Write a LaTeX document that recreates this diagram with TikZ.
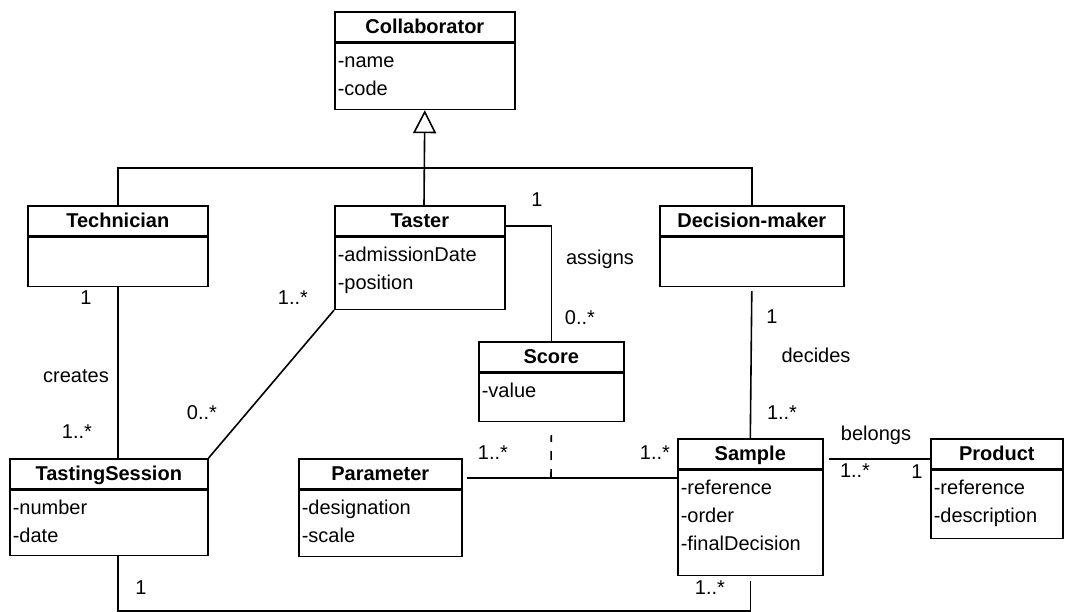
\documentclass[tikz,border=0pt]{standalone}
\usepackage{fontspec}
\setmainfont{Liberation Sans}
\usetikzlibrary{arrows.meta}
\newcommand{\diagfont}{\fontsize{20}{28}\selectfont}

\tikzset{
  classhead/.style={draw, anchor=north west, minimum height=30pt, inner sep=0pt, text height=14.3pt, text depth=0pt, font=\diagfont\bfseries},
  classbody/.style={draw, anchor=north west, inner sep=0pt},
  attrs/.style={anchor=base west, align=left, inner sep=0pt},
  mult/.style={inner sep=0pt},
  inherit/.style={-{Triangle[open, length=23pt, width=23pt]}},
  scoredash/.style={dash pattern=on 9pt off 9pt},
}

\begin{document}
\begin{tikzpicture}[x=1pt, y=-1pt, line width=1.6pt, font=\diagfont]
  \useasboundingbox (0,0) rectangle (1068,612);

  % classes (attrs are placed by the baseline of their last line)
  \node[classhead, minimum width=180pt] (collab) at (334,11) {Collaborator};
  \node[classbody, minimum width=180pt, minimum height=66pt] (collab-body) at (collab.south west) {};
  \node[attrs] (collab-attr) at ([xshift=3pt, yshift=-52.5pt]collab-body.north west) {-name\\-code};

  \node[classhead, minimum width=180pt] (tech) at (27,205) {Technician};
  \node[classbody, minimum width=180pt, minimum height=49pt] (tech-body) at (tech.south west) {};

  \node[classhead, minimum width=170pt] (taster) at (334,205) {Taster};
  \node[classbody, minimum width=170pt, minimum height=72pt] (taster-body) at (taster.south west) {};
  \node[attrs] (taster-attr) at ([xshift=3pt, yshift=-52.5pt]taster-body.north west) {-admissionDate\\-position};

  \node[classhead, minimum width=184pt] (decmaker) at (659,205) {Decision-maker};
  \node[classbody, minimum width=184pt, minimum height=49pt] (decmaker-body) at (decmaker.south west) {};

  \node[classhead, minimum width=145pt] (score) at (478,341) {Score};
  \node[classbody, minimum width=145pt, minimum height=48pt] (score-body) at (score.south west) {};
  \node[attrs] (score-attr) at ([xshift=3pt, yshift=-24.5pt]score-body.north west) {-value};

  \node[classhead, minimum width=198pt] (session) at (9,458) {TastingSession};
  \node[classbody, minimum width=198pt, minimum height=65pt] (session-body) at (session.south west) {};
  \node[attrs] (session-attr) at ([xshift=3pt, yshift=-52.5pt]session-body.north west) {-number\\-date};

  \node[classhead, minimum width=163pt] (param) at (298,458) {Parameter};
  \node[classbody, minimum width=163pt, minimum height=66pt] (param-body) at (param.south west) {};
  \node[attrs] (param-attr) at ([xshift=3pt, yshift=-52.5pt]param-body.north west) {-designation\\-scale};

  \node[classhead, minimum width=145pt] (sample) at (677,438) {Sample};
  \node[classbody, minimum width=145pt, minimum height=105pt] (sample-body) at (sample.south west) {};
  \node[attrs] (sample-attr) at ([xshift=3pt, yshift=-80.5pt]sample-body.north west) {-reference\\-order\\-finalDecision};

  \node[classhead, minimum width=132pt] (product) at (930,438) {Product};
  \node[classbody, minimum width=132pt, minimum height=68pt] (product-body) at (product.south west) {};
  \node[attrs] (product-attr) at ([xshift=3pt, yshift=-52.5pt]product-body.north west) {-reference\\-description};

  % generalisation
  \coordinate (hub) at (424,168);
  \draw (tech.north) |- (hub) -| (decmaker.north);
  \draw[inherit] (hub |- taster.north) -- (collab-body.south);

  % associations
  \draw ([yshift=-21pt]taster.north east) -| (score.north);
  \node[mult] (m-assign-1) at (537,200) {1};
  \node (lbl-assigns) at (600,259) {assigns};
  \node[mult] (m-assign-2) at (580,318) {0..*};

  \draw (tech-body.south) -- (tech-body.south |- session.north);
  \node[mult] (m-create-1) at (86,298) {1};
  \node (lbl-creates) at (76,376) {creates};
  \node[mult] (m-create-2) at (77,432) {1..*};

  \draw (taster-body.south west) -- (session.north east);
  \node[mult] (m-taste-1) at (293,298) {1..*};
  \node[mult] (m-taste-2) at (202,413) {0..*};

  \draw ([yshift=-4pt]decmaker-body.south) -- (sample.north);
  \node[mult] (m-decide-1) at (772,317) {1};
  \node (lbl-decides) at (816,355) {decides};
  \node[mult] (m-decide-2) at (782,413) {1..*};

  \draw ([xshift=4pt, yshift=-20pt]param.north east) -- ([yshift=-40pt]sample.north west);
  \coordinate (assoc) at (551,478);
  \draw[scoredash] (assoc) -- ([yshift=-13pt]score-body.south);
  \node[mult] (m-param-1) at (493,453) {1..*};
  \node[mult] (m-param-2) at (655,453) {1..*};

  \draw ([xshift=5pt, yshift=-21pt]sample.north east) -- ([yshift=-21pt]product.north west);
  \node (lbl-belongs) at (876,435) {belongs};
  \node[mult] (m-belong-1) at (855,471) {1..*};
  \node[mult] (m-belong-2) at (917,472) {1};

  \draw (tech-body.south |- session-body.south) -- ++(0,55) -| ([yshift=-5pt]sample-body.south);
  \node[mult] (m-session-1) at (141,588) {1};
  \node[mult] (m-session-2) at (710,588) {1..*};
\end{tikzpicture}
\end{document}
